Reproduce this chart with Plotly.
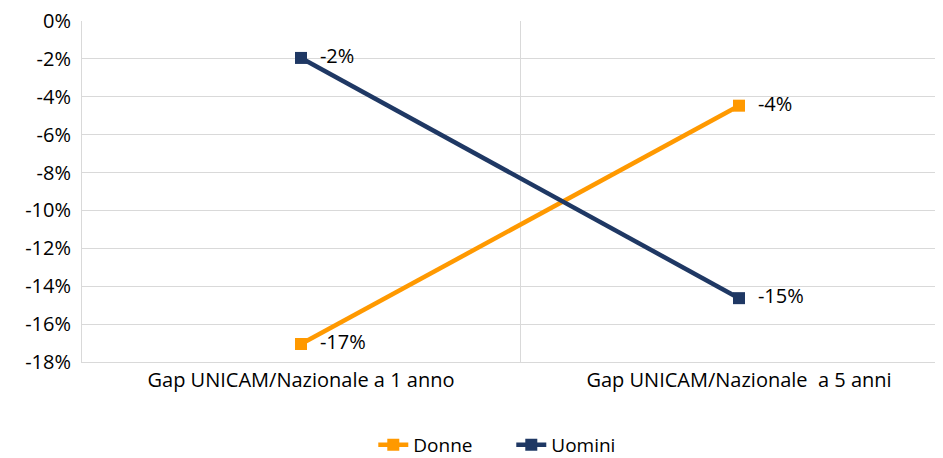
import plotly.graph_objects as go

categories = ["Gap UNICAM/Nazionale a 1 anno", "Gap UNICAM/Nazionale  a 5 anni"]
donne = [-0.1705, -0.0447]
uomini = [-0.0195, -0.1463]
tick_vals = [0, -0.02, -0.04, -0.06, -0.08, -0.10, -0.12, -0.14, -0.16, -0.18]

FONT = "Open Sans"
ORANGE = "#FF9900"
NAVY = "#1F3864"

def pct(v):
    return f"{round(v * 100):.0f}%"

fig = go.Figure()
for name, vals, col in [("Donne", donne, ORANGE), ("Uomini", uomini, NAVY)]:
    fig.add_trace(go.Scatter(
        x=categories, y=vals, name=name, mode="lines+markers+text",
        line=dict(color=col, width=4.5),
        marker=dict(symbol="square", size=12, color=col),
        text=["  " + pct(v) for v in vals],
        textposition="middle right",
        textfont=dict(family=FONT, size=20, color="#000000"),
        cliponaxis=False,
    ))

fig.update_layout(
    width=943, height=458,
    margin=dict(l=74, r=0, t=13, b=104),
    paper_bgcolor="white", plot_bgcolor="white",
    font=dict(family=FONT, size=19, color="#000000"),
    showlegend=True,
    legend=dict(orientation="h", x=0.494, xanchor="center", y=-0.243, yanchor="middle",
                font=dict(family=FONT, size=19), traceorder="normal",
                entrywidth=93, entrywidthmode="pixels"),
)
fig.update_xaxes(
    type="category", range=[-0.5, 1.484],
    tickson="boundaries", ticks="", showgrid=True, gridcolor="#D9D9D9", gridwidth=1,
    showline=True, linecolor="#D9D9D9", zeroline=False, automargin=False,
    tickfont=dict(family=FONT, size=20),
)
fig.update_yaxes(
    range=[-0.18, 0], tickvals=tick_vals, ticktext=[pct(v) for v in tick_vals],
    showgrid=True, gridcolor="#D9D9D9", gridwidth=1, automargin=False,
    showline=True, linecolor="#D9D9D9", zeroline=False, ticks="",
    tickfont=dict(family=FONT, size=20), ticklabelstandoff=6,
    ticklabeloverflow="allow",
)

fig.write_html("out.html")
